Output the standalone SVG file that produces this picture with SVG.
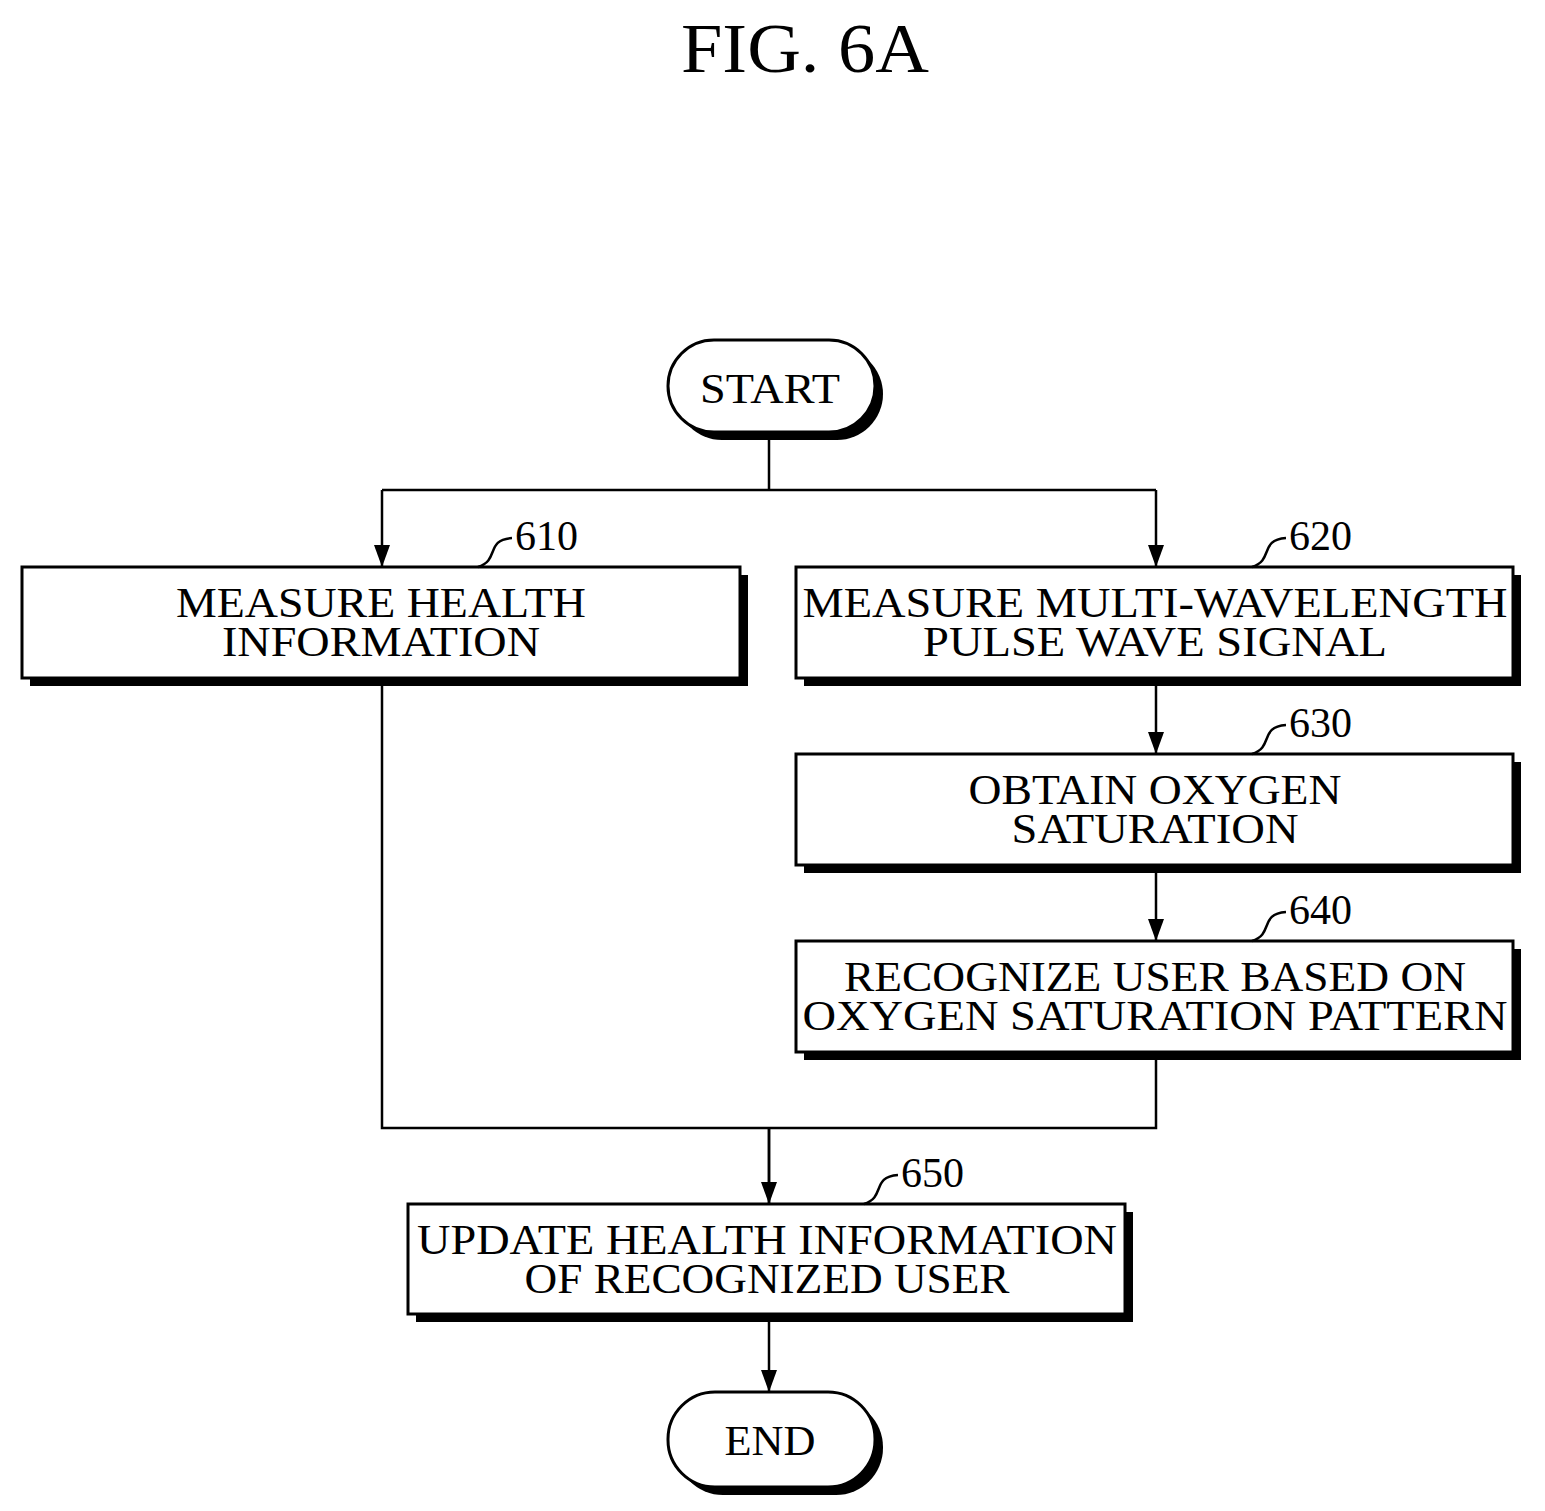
<svg xmlns="http://www.w3.org/2000/svg" width="1545" height="1511" viewBox="0 0 1545 1511">
<style>
.b{fill:#fff;stroke:#000;stroke-width:3}
.s{fill:#000}
.t{font-family:"Liberation Serif",serif;font-size:42px;text-anchor:middle}
.n{font-family:"Liberation Serif",serif;font-size:42px}
.c{fill:none;stroke:#000;stroke-width:2.5}
</style>
<defs>
<marker id="ah" viewBox="0 0 22 16" refX="22" refY="8" markerWidth="22" markerHeight="16" markerUnits="userSpaceOnUse" orient="auto"><path d="M0,0L22,8L0,16z"/></marker></defs>
<rect width="1545" height="1511" fill="#fff"/>
<text x="805" y="72" font-family="Liberation Serif,serif" font-size="70" text-anchor="middle" textLength="248" lengthAdjust="spacingAndGlyphs">FIG. 6A</text>
<g id="connectors">
<path class="c" d="M769,432V490M382,490H1156M382,678V1128H1156V1052M769,1128V1204"/>
<path class="c" marker-end="url(#ah)" d="M382,490V567"/>
<path class="c" marker-end="url(#ah)" d="M1156,490V567"/>
<path class="c" marker-end="url(#ah)" d="M1156,678V754"/>
<path class="c" marker-end="url(#ah)" d="M1156,865V941"/>
<path class="c" marker-end="url(#ah)" d="M769,1128V1204"/>
<path class="c" marker-end="url(#ah)" d="M769,1314V1392"/>
</g>
<g id="start"><rect x="676" y="348" width="207" height="92" rx="46" class="s"/><rect x="668" y="340" width="207" height="92" rx="46" class="b"/><text x="770" y="403" class="t" textLength="140" lengthAdjust="spacingAndGlyphs">START</text></g>
<g id="n610"><rect x="30" y="575" width="718" height="111" class="s"/><rect x="22" y="567" width="718" height="111" class="b"/><text x="381" y="617" class="t" textLength="410" lengthAdjust="spacingAndGlyphs">MEASURE HEALTH</text><text x="381" y="656" class="t" textLength="318" lengthAdjust="spacingAndGlyphs">INFORMATION</text>
<path class="c" d="M478,567C500,560 485,540 512,538"/><text x="515" y="550" class="n">610</text></g>
<g id="n620"><rect x="804" y="575" width="717" height="111" class="s"/><rect x="796" y="567" width="717" height="111" class="b"/><text x="1155" y="617" class="t" textLength="705" lengthAdjust="spacingAndGlyphs">MEASURE MULTI-WAVELENGTH</text><text x="1155" y="656" class="t" textLength="464" lengthAdjust="spacingAndGlyphs">PULSE WAVE SIGNAL</text>
<path class="c" d="M1252,567C1274,560 1259,540 1286,538"/><text x="1289" y="550" class="n">620</text></g>
<g id="n630"><rect x="804" y="762" width="717" height="111" class="s"/><rect x="796" y="754" width="717" height="111" class="b"/><text x="1155" y="804" class="t" textLength="373" lengthAdjust="spacingAndGlyphs">OBTAIN OXYGEN</text><text x="1155" y="843" class="t" textLength="287" lengthAdjust="spacingAndGlyphs">SATURATION</text>
<path class="c" d="M1252,754C1274,747 1259,727 1286,725"/><text x="1289" y="737" class="n">630</text></g>
<g id="n640"><rect x="804" y="949" width="717" height="111" class="s"/><rect x="796" y="941" width="717" height="111" class="b"/><text x="1155" y="991" class="t" textLength="622" lengthAdjust="spacingAndGlyphs">RECOGNIZE USER BASED ON</text><text x="1155" y="1030" class="t" textLength="705" lengthAdjust="spacingAndGlyphs">OXYGEN SATURATION PATTERN</text>
<path class="c" d="M1252,941C1274,934 1259,914 1286,912"/><text x="1289" y="924" class="n">640</text></g>
<g id="n650"><rect x="416" y="1212" width="717" height="110" class="s"/><rect x="408" y="1204" width="717" height="110" class="b"/><text x="767" y="1254" class="t" textLength="700" lengthAdjust="spacingAndGlyphs">UPDATE HEALTH INFORMATION</text><text x="767" y="1293" class="t" textLength="485" lengthAdjust="spacingAndGlyphs">OF RECOGNIZED USER</text>
<path class="c" d="M864,1204C886,1197 871,1177 898,1175"/><text x="901" y="1187" class="n">650</text></g>
<g id="end"><rect x="676" y="1400" width="207" height="95" rx="47" class="s"/><rect x="668" y="1392" width="207" height="95" rx="47" class="b"/><text x="770" y="1455" class="t" textLength="91" lengthAdjust="spacingAndGlyphs">END</text></g>
</svg>
